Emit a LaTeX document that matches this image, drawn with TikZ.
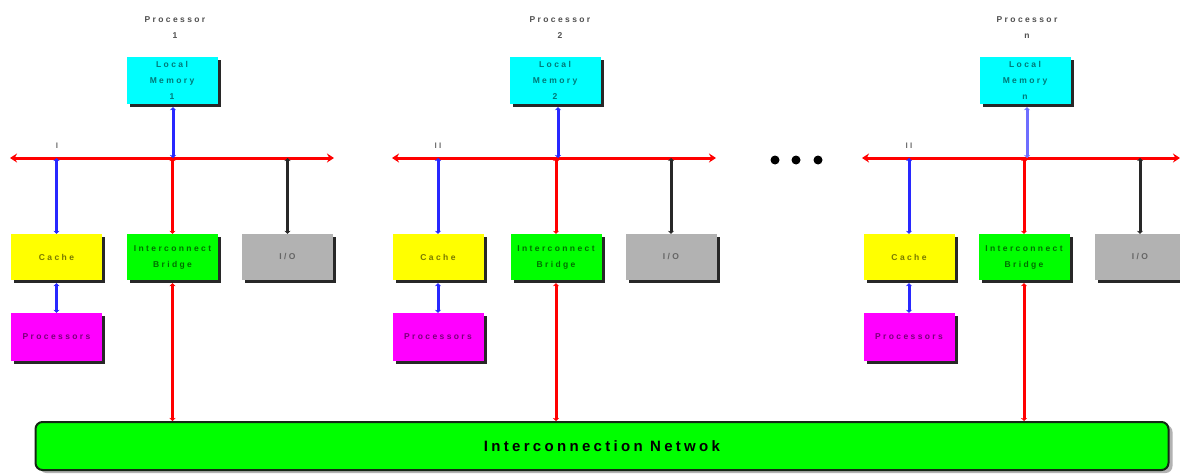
\documentclass[tikz,border=0pt]{standalone}
\usepackage{fontspec}
\setmainfont{Liberation Sans}
\newfontfamily\boxfont[LetterSpace=28]{Liberation Sans}
\newfontfamily\netfont[LetterSpace=22]{Liberation Sans}
\usetikzlibrary{shadows,arrows.meta}
\definecolor{memfill}{RGB}{0,255,255}
\definecolor{cachefill}{RGB}{255,255,0}
\definecolor{bridgefill}{RGB}{0,255,0}
\definecolor{iofill}{RGB}{178,178,178}
\definecolor{procfill}{RGB}{255,0,255}
\definecolor{shade}{RGB}{40,40,40}
\definecolor{busred}{RGB}{255,0,0}
\definecolor{linkblue}{RGB}{40,40,255}
\tikzset{
  unit/.style={minimum width=91pt, minimum height=46pt, inner sep=0pt,
    draw=none, align=center, font=\boxfont\bfseries\fontsize{8.5}{16}\selectfont,
    copy shadow={shadow xshift=3pt, shadow yshift=-3pt, fill=shade, draw=none}},
  memunit/.style={unit, fill=memfill, text={rgb,255:red,0;green,120;blue,120}, minimum height=47pt},
  cacheunit/.style={unit, fill=cachefill, text={rgb,255:red,120;green,120;blue,0}},
  bridgeunit/.style={unit, fill=bridgefill, text={rgb,255:red,0;green,110;blue,0}},
  iounit/.style={unit, fill=iofill, text={rgb,255:red,100;green,100;blue,100}},
  procunit/.style={unit, fill=procfill, text={rgb,255:red,120;green,0;blue,120}, minimum height=48pt},
  title/.style={align=center, font=\boxfont\bfseries\fontsize{8.5}{16}\selectfont, text={rgb,255:red,80;green,80;blue,80}},
  buslabel/.style={font=\boxfont\bfseries\fontsize{8}{8}\selectfont, text={rgb,255:red,110;green,110;blue,110}},
  bus/.style={draw=busred, line width=3pt, {Stealth[length=7pt,width=9pt]}-{Stealth[length=7pt,width=9pt]}},
  link/.style={line width=3pt, {Stealth[length=3pt,width=6pt]}-{Stealth[length=3pt,width=6pt]}},
  bluelink/.style={link, draw=linkblue},
  redlink/.style={link, draw=busred},
  blacklink/.style={link, draw=shade},
  dot/.style={circle, fill=black, inner sep=0pt, minimum size=9pt}
}
\begin{document}
\begin{tikzpicture}[x=1pt,y=-1pt]
\useasboundingbox (0,0) rectangle (1180,474);
\fill[white] (0,0) rectangle (1180,474);

% interconnection network
\node[draw={rgb,255:red,20;green,40;blue,20}, line width=2pt, fill=bridgefill, rounded corners=7pt,
  minimum width=1133pt, minimum height=48pt, inner sep=0pt,
  font=\netfont\bfseries\fontsize{15}{16}\selectfont,
  copy shadow={shadow xshift=4pt, shadow yshift=-3pt, fill=iofill, draw=none}]
  (net) at (602,446) {Interconnection Netwok};

% ---- node 1 ----
\node[title] (pt1) at (175,28) {Processor\\1};
\node[memunit] (mem1) at (172,80.5) {Local\\Memory\\1};
\coordinate (bus1l) at (10,158);
\coordinate (bus1r) at (334,158);
\node[buslabel] (bl1) at (57,146) {I};
\node[cacheunit] (cache1) at (56.5,257) {Cache};
\node[bridgeunit] (bridge1) at (172.5,257) {Interconnect\\Bridge};
\node[iounit] (io1) at (287.5,257) {I/O};
\node[procunit] (proc1) at (56.5,337) {Processors};

% ---- node 2 ----
\node[title] (pt2) at (560,28) {Processor\\2};
\node[memunit] (mem2) at (555,80.5) {Local\\Memory\\2};
\coordinate (bus2l) at (392,158);
\coordinate (bus2r) at (716,158);
\node[buslabel] (bl2) at (438,146) {II};
\node[cacheunit] (cache2) at (438,257) {Cache};
\node[bridgeunit] (bridge2) at (556,257) {Interconnect\\Bridge};
\node[iounit] (io2) at (671,257) {I/O};
\node[procunit] (proc2) at (438,337) {Processors};

% ---- node n ----
\node[title] (ptn) at (1027,28) {Processor\\n};
\node[memunit] (memn) at (1025,80.5) {Local\\Memory\\n};
\coordinate (busnl) at (862,158);
\coordinate (busnr) at (1180,158);
\node[buslabel] (bln) at (909,146) {II};
\node[cacheunit] (cachen) at (909,257) {Cache};
\node[bridgeunit] (bridgen) at (1024,257) {Interconnect\\Bridge};
\node[iounit] (ion) at (1140,257) {I/O};
\node[procunit] (procn) at (909,337) {Processors};

% ellipsis between nodes
\node[dot] (d1) at (775,160) {};
\node[dot] (d2) at (796,160) {};
\node[dot] (d3) at (818,160) {};

% local buses
\draw[bus] (bus1l) -- (bus1r);
\draw[bus] (bus2l) -- (bus2r);
\draw[bus] (busnl) -- (busnr);

% memory to bus
\draw[bluelink] ([xshift=1pt,yshift=-3pt]mem1.south) -- ([xshift=1pt]mem1.south |- bus1l);
\draw[bluelink] ([xshift=3pt,yshift=-3pt]mem2.south) -- ([xshift=3pt]mem2.south |- bus2l);
\draw[bluelink, draw={rgb,255:red,110;green,110;blue,255}] ([xshift=2pt,yshift=-3pt]memn.south) -- ([xshift=2pt]memn.south |- busnl);

% bus to units
\foreach \k in {1,2,n}{
  \draw[bluelink] (cache\k.north |- bus\k l) -- (cache\k.north);
  \draw[redlink] (bridge\k.north |- bus\k l) -- (bridge\k.north);
  \draw[blacklink] (io\k.north |- bus\k l) -- (io\k.north);
  \draw[bluelink] ([yshift=-3pt]cache\k.south) -- (proc\k.north);
  \draw[redlink] ([yshift=-3pt]bridge\k.south) -- (bridge\k.south |- net.north);
}
\end{tikzpicture}
\end{document}
